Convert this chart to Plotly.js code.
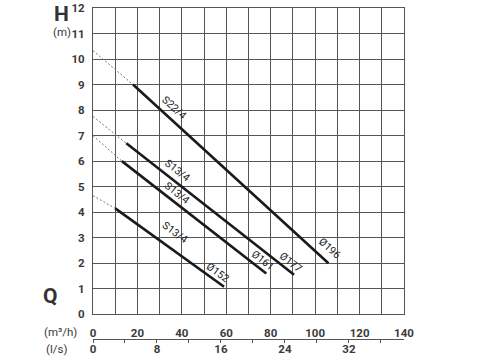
<!DOCTYPE html>
<html>
<head>
<meta charset="utf-8">
<script src="https://cdn.plot.ly/plotly-3.0.1.min.js"></script>
<style>html,body{margin:0;padding:0;background:#fff;}#chart{width:478px;height:360px;}</style>
</head>
<body>
<div id="chart"></div>
<script>
// Pump curves (Q in m³/h, H in m)
const models    = ['S22/4', 'S13/4', 'S13/4', 'S13/4'];
const diameters = ['Ø196', 'Ø177', 'Ø161', 'Ø152'];
const hShutoff  = [10.33, 7.75, 7.0, 4.65];   // H at Q = 0 (dashed start)
const qStart    = [18, 15, 13, 10];            // start of solid part
const hStart    = [9.0, 6.7, 6.0, 4.15];
const qEnd      = [106, 90.5, 78, 59];         // end of solid part
const hEnd      = [2.0, 1.55, 1.6, 1.08];

// Axis ticks
const hTicks   = [0,1,2,3,4,5,6,7,8,9,10,11,12];
const qTicks   = [0,20,40,60,80,100,120,140];
const lsTicks  = [0,8,16,24,32];
const Q_MAX = 140;
const M3H_PER_LS = 3.6;

// styling (positions of text labels in data units, angles)
const modelLabelPos = [[36.5,8.1,42],[38.0,5.62,38],[37.6,4.77,38],[37.1,3.22,36]];
const diamLabelPos  = [[106.6,2.57,42],[89.1,2.02,38],[76.4,2.09,38],[56.1,1.62,36]];

const traces = [];
for (let i = 0; i < models.length; i++) {
  traces.push({
    x: [0, qStart[i]], y: [hShutoff[i], hStart[i]],
    mode: 'lines', line: {color: '#777', width: 1, dash: '2px,2px'},
    hoverinfo: 'skip', showlegend: false
  });
  traces.push({
    x: [qStart[i], qEnd[i]], y: [hStart[i], hEnd[i]],
    mode: 'lines', line: {color: '#1a1a1a', width: 2.6},
    name: models[i] + ' ' + diameters[i], showlegend: false
  });
}
// helper trace for the secondary (l/s) axis
traces.push({x: [0, Q_MAX / M3H_PER_LS], y: [null, null], xaxis: 'x2', yaxis: 'y',
  mode: 'markers', marker: {opacity: 0}, hoverinfo: 'skip', showlegend: false});

const tickFont = {family: 'Roboto, sans-serif', size: 11.5, color: '#3a3a3a', weight: 700};
const labelFont = {family: 'Roboto, sans-serif', size: 10.5, color: '#222'};
const annotations = [];
for (let i = 0; i < models.length; i++) {
  annotations.push({x: modelLabelPos[i][0], y: modelLabelPos[i][1], xref: 'x', yref: 'y',
    xanchor: 'center', yanchor: 'middle',
    text: models[i], showarrow: false, textangle: modelLabelPos[i][2], font: labelFont});
  annotations.push({x: diamLabelPos[i][0], y: diamLabelPos[i][1], xref: 'x', yref: 'y',
    xanchor: 'center', yanchor: 'middle',
    text: diameters[i], showarrow: false, textangle: diamLabelPos[i][2], font: labelFont});
}
const titleFont = {family: 'Roboto, sans-serif', size: 11.5, color: '#3a3a3a'};
const bigFont = {family: 'Roboto, sans-serif', size: 21, color: '#333', weight: 700};
function paperText(x, y, text, font) {
  return {xref: 'paper', yref: 'paper', x: x, y: y, xanchor: 'center', yanchor: 'middle',
    text: text, showarrow: false, font: font};
}
annotations.push(paperText(-0.0997, 0.982, 'H', bigFont));
annotations.push(paperText(-0.099, 0.928, '(m)', titleFont));
annotations.push(paperText(-0.138, 0.1325, 'Q', bigFont));
annotations.push(paperText(-0.1029, 0.024, '(m³/h)', titleFont));
annotations.push(paperText(-0.117, -0.027, '(l/s)', titleFont));

const layout = {
  width: 478, height: 360,
  margin: {l: 93, r: 74, t: 8, b: 20, pad: 0},
  paper_bgcolor: '#fff', plot_bgcolor: '#fff',
  showlegend: false,
  xaxis: {
    range: [0, Q_MAX], anchor: 'y', tickvals: qTicks, ticks: '',
    showgrid: true, gridcolor: '#555', gridwidth: 1,
    minor: {dtick: 10, showgrid: true, gridcolor: '#555', gridwidth: 1},
    showline: true, linecolor: '#555', linewidth: 1, mirror: true,
    zeroline: false, tickfont: tickFont, ticklabelstandoff: 8, fixedrange: true
  },
  xaxis2: {
    range: [0, Q_MAX / M3H_PER_LS], overlaying: 'x', anchor: 'free', position: 0.003,
    tickvals: lsTicks, ticks: 'outside', ticklen: 3, tickcolor: '#555',
    minor: {dtick: 4, ticks: 'outside', ticklen: 3, tickcolor: '#555'},
    showgrid: false, showline: true, linecolor: '#555', linewidth: 1,
    zeroline: false, tickfont: tickFont, ticklabelstandoff: -4, fixedrange: true
  },
  yaxis: {
    range: [0, 12], domain: [0.0774, 1], tickvals: hTicks, ticks: '',
    showgrid: true, gridcolor: '#555', gridwidth: 1,
    showline: true, linecolor: '#555', linewidth: 1, mirror: true,
    zeroline: false, tickfont: tickFont, ticklabelstandoff: 5, fixedrange: true
  },
  annotations: annotations
};

Plotly.newPlot('chart', traces, layout, {displayModeBar: false, staticPlot: true});
</script>
</body>
</html>
